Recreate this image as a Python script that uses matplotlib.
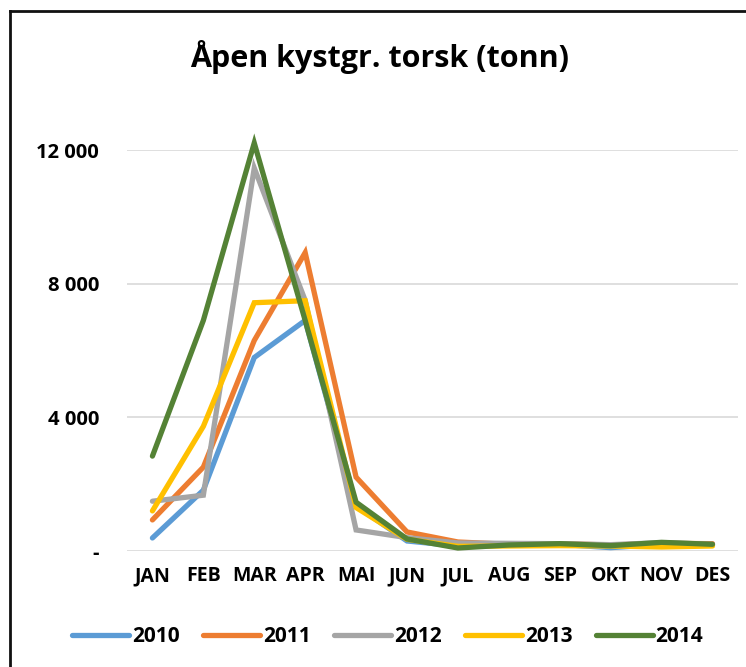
import matplotlib
matplotlib.use("Agg")
import matplotlib.pyplot as plt
from matplotlib.lines import Line2D
from matplotlib.ticker import FuncFormatter

plt.rcParams['font.family'] = ['Open Sans', 'DejaVu Sans']

months = ['JAN', 'FEB', 'MAR', 'APR', 'MAI', 'JUN', 'JUL', 'AUG', 'SEP', 'OKT', 'NOV', 'DES']
years = ['2010', '2011', '2012', '2013', '2014']
colors = ['#5B9BD5', '#ED7D31', '#A5A5A5', '#FFC000', '#548235']

# tonn per month
v2010 = [390, 1820, 5790, 6900, 1350, 300, 150, 180, 200, 100, 200, 180]
v2011 = [930, 2510, 6300, 8930, 2210, 570, 270, 200, 220, 180, 230, 220]
v2012 = [1490, 1670, 11460, 7500, 630, 400, 240, 230, 220, 190, 250, 200]
v2013 = [1200, 3730, 7430, 7490, 1300, 350, 140, 150, 160, 150, 120, 150]
v2014 = [2840, 6900, 12210, 6900, 1460, 360, 90, 180, 220, 160, 260, 200]
series = [v2010, v2011, v2012, v2013, v2014]

fig = plt.figure(figsize=(7.46, 6.67), dpi=100)
ax = fig.add_axes([0.1702, 0.1739, 0.819, 0.6012])

x = range(len(months))
for yr, vals, c in zip(years, series, colors):
    ax.plot(x, vals, color=c, lw=3.8, label=yr, clip_on=False,
            solid_capstyle='round', solid_joinstyle='miter')

ax.set_xlim(-0.5, 11.5)
ax.set_ylim(0, 12000)
ax.set_yticks([0, 4000, 8000, 12000])
ax.yaxis.set_major_formatter(FuncFormatter(
    lambda v, p: '-' if v == 0 else f'{int(v):,}'.replace(',', ' ')))
ax.set_xticks(list(x))
ax.set_xticklabels(months)
ax.grid(axis='y', color='#D9D9D9', lw=1.2)
ax.set_axisbelow(True)
for s in ax.spines.values():
    s.set_visible(False)
ax.tick_params(axis='x', length=0, labelsize=14, pad=11)
ax.tick_params(axis='y', length=0, labelsize=14.5, pad=20)
for lab in ax.get_xticklabels() + ax.get_yticklabels():
    lab.set_fontweight('bold')

fig.text(0.509, 0.914, 'Åpen kystgr. torsk (tonn)', ha='center', va='center',
         fontsize=22, fontweight='bold')

fig.legend(loc='center', bbox_to_anchor=(0.52, 1 - 637 / 667), ncol=5,
           frameon=False, handlelength=2.7, handletextpad=0.15,
           columnspacing=1.15, prop={'weight': 'bold', 'size': 15})

# frame along top and left edge
fig.add_artist(Line2D([10 / 746, 10 / 746], [0, 1 - 11 / 667], color='#111111', lw=2))
fig.add_artist(Line2D([10 / 746, 1], [1 - 11 / 667, 1 - 11 / 667], color='#111111', lw=2))

fig.savefig('out.png', dpi=100)
